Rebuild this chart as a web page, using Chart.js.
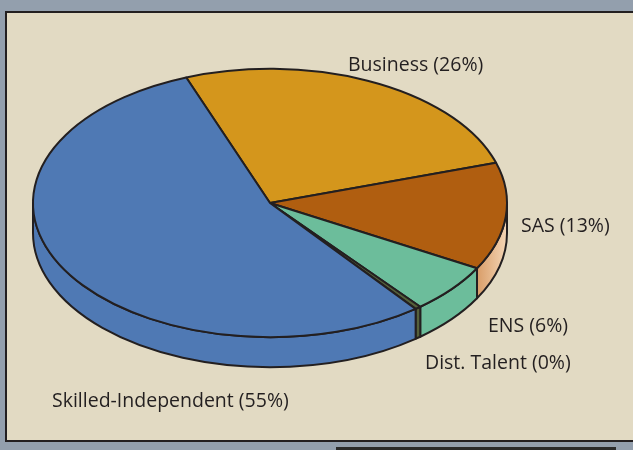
<!DOCTYPE html>
<html>
<head>
<meta charset="utf-8">
<script src="https://cdn.jsdelivr.net/npm/chart.js@4.4.1/dist/chart.umd.min.js"></script>
<style>
  html, body { margin: 0; padding: 0; background: #939fad; width: 633px; height: 450px; overflow: hidden; }
  .frame {
    position: absolute; left: 5px; top: 11px; width: 700px; height: 427px;
    background: #e2dac3; border: 2px solid #231f20;
  }
  .tab { position: absolute; left: 336px; top: 447px; width: 280px; height: 6px; background: #2a2a2a; }
  #pie { position: absolute; left: 0; top: 0; }
</style>
</head>
<body>
<div class="frame"></div>
<div class="tab"></div>
<canvas id="pie" width="633" height="450"></canvas>
<script>
/* ── data ── */
const categories = ['Business', 'SAS', 'ENS', 'Dist. Talent', 'Skilled-Independent'];
const shares     = [26, 13, 6, 0, 55];          // printed percentages
const values     = [26, 13, 6, 0.4, 55];        // slice sizes (Dist. Talent shows as a sliver)

/* ── style ── */
const topColors  = ['#d4961c', '#b05e10', '#6cbd9b', '#55603a', '#4f79b4'];
const edge       = '#231f20';
const tilt       = 0.566;   // ellipse ry / rx
const depth      = 30;      // pie thickness, px
const labelPos   = [[348, 65], [521, 226], [488, 326], [425, 363], [52, 401]];

// visible part of [s,e] on the front half (sin > 0) of the ellipse
function frontParts(s, e) {
  const out = [];
  for (let k = -2; k <= 2; k++) {
    const a = Math.max(s, 2 * Math.PI * k);
    const b = Math.min(e, 2 * Math.PI * k + Math.PI);
    if (b > a) out.push([a, b]);
  }
  return out;
}

const pie3d = {
  id: 'pie3d',
  beforeDatasetsDraw(chart) {
    const ctx = chart.ctx;
    const arcs = chart.getDatasetMeta(0).data;
    ctx.save();
    ctx.lineWidth = 2;
    ctx.lineJoin = 'round';
    ctx.strokeStyle = edge;

    // side walls
    arcs.forEach((arc, i) => {
      const { x, y, startAngle, endAngle, outerRadius } = arc.getProps(['x', 'y', 'startAngle', 'endAngle', 'outerRadius']);
      const rx = outerRadius, ry = outerRadius * tilt;
      frontParts(startAngle, endAngle).forEach(([a, b]) => {
        ctx.beginPath();
        ctx.ellipse(x, y, rx, ry, 0, a, b, false);
        ctx.lineTo(x + rx * Math.cos(b), y + ry * Math.sin(b) + depth);
        ctx.ellipse(x, y + depth, rx, ry, 0, b, a, true);
        ctx.closePath();
        if (i === 1) {
          const g = ctx.createLinearGradient(x + rx * Math.cos(b), 0, x + rx, 0);
          g.addColorStop(0, '#d99d68');
          g.addColorStop(1, '#f4d6b6');
          ctx.fillStyle = g;
        } else {
          ctx.fillStyle = topColors[i];
        }
        ctx.fill();
        ctx.stroke();
      });
    });

    // top surface
    arcs.forEach((arc, i) => {
      const { x, y, startAngle, endAngle, outerRadius } = arc.getProps(['x', 'y', 'startAngle', 'endAngle', 'outerRadius']);
      ctx.beginPath();
      ctx.moveTo(x, y);
      ctx.ellipse(x, y, outerRadius, outerRadius * tilt, 0, startAngle, endAngle, false);
      ctx.closePath();
      ctx.fillStyle = topColors[i];
      ctx.fill();
      ctx.stroke();
    });

    // labels
    ctx.fillStyle = '#231f20';
    ctx.font = '19.5px "Open Sans"';
    ctx.textAlign = 'left';
    ctx.textBaseline = 'middle';
    categories.forEach((c, i) => {
      ctx.fillText(c + ' (' + shares[i] + '%)', labelPos[i][0], labelPos[i][1]);
    });
    ctx.restore();
    return false;   // skip the flat pie
  }
};

new Chart(document.getElementById('pie'), {
  type: 'pie',
  data: {
    labels: categories,
    datasets: [{
      data: values,
      backgroundColor: topColors,
      radius: 237,
      borderWidth: 0
    }]
  },
  options: {
    responsive: false,
    animation: false,
    rotation: -20.7,
    layout: { padding: { left: 0, right: 93, top: 0, bottom: 44 } },
    plugins: { legend: { display: false }, tooltip: { enabled: false } }
  },
  plugins: [pie3d]
});
</script>
</body>
</html>
